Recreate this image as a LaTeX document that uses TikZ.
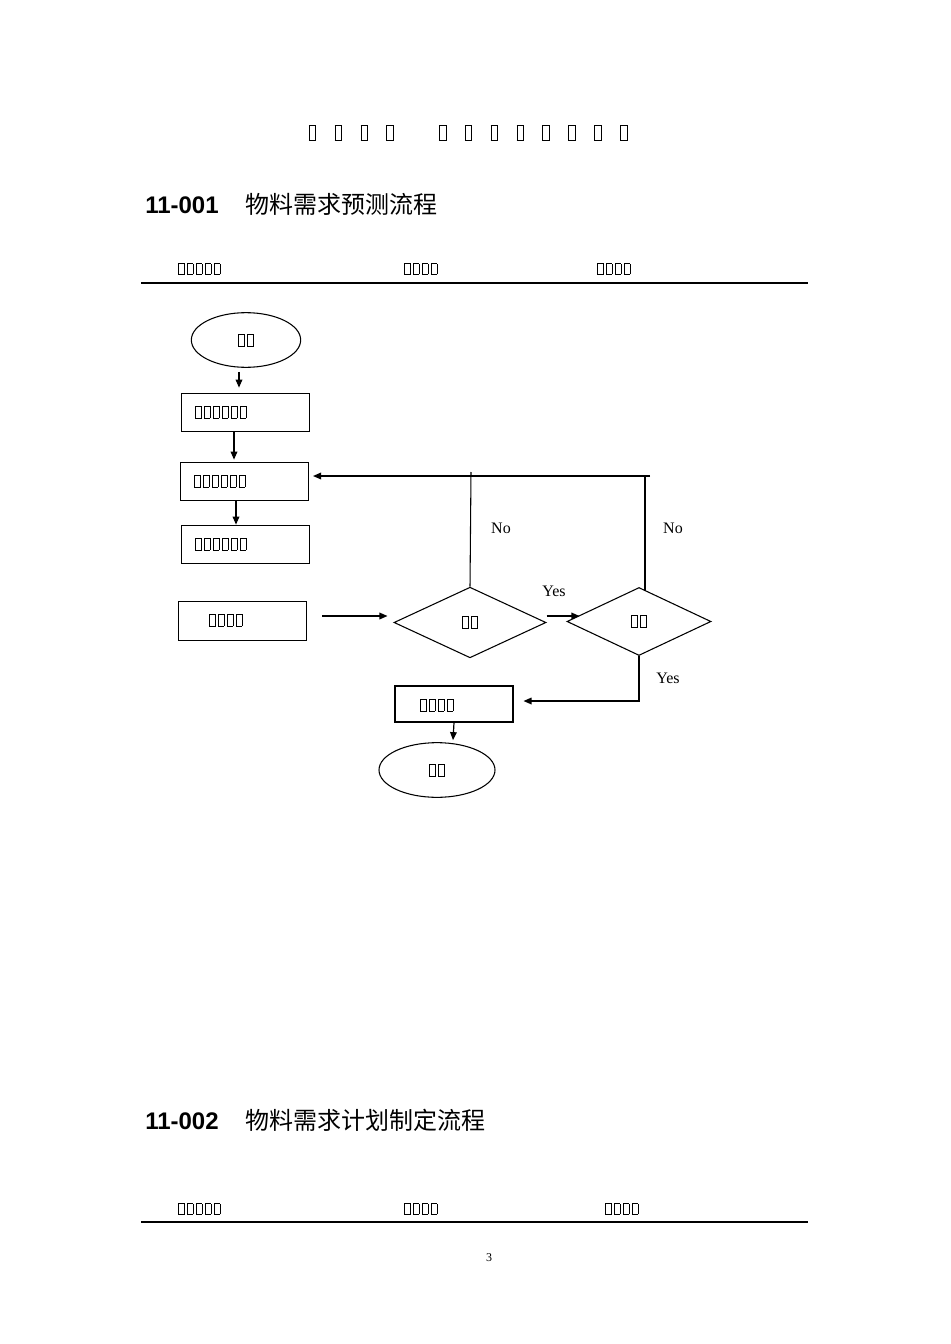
\documentclass[tikz,border=0pt]{standalone}
\usepackage{fontspec}
\setmainfont{Liberation Serif}
\newfontfamily\cjk{Noto Sans CJK SC}
\newfontfamily\hd{Liberation Sans}
\usetikzlibrary{shapes.geometric,arrows.meta}
\setlength{\fboxsep}{0pt}\setlength{\fboxrule}{0.45pt}
\newcommand\tofurow[4]{\foreach \i in {1,...,#1}{\fbox{\rule{0pt}{#3}\hspace{#2}}\hspace{#4}}}
\begin{document}
\begin{tikzpicture}[x=0.75pt,y=-0.75pt,
  box/.style={draw,line width=0.8pt,minimum width=96pt,minimum height=29pt,inner sep=0pt},
  ell/.style={draw,line width=0.8pt,ellipse,minimum width=82pt,minimum height=41pt,inner sep=0pt},
  dia/.style={draw,line width=0.8pt,diamond,aspect=2.1,minimum width=114pt,minimum height=53pt,inner sep=0pt},
  arr/.style={line width=0.9pt,-{Triangle[length=6pt,width=5pt]}},
  ln/.style={line width=0.8pt},
  lbl/.style={font=\fontsize{12}{12}\selectfont,inner sep=0pt}]
\fill[white] (0,0) rectangle (950,1344);
% title
\node[inner sep=0pt] (title) at (468,133) {\tofurow{4}{4.5pt}{11pt}{14pt}\hspace{20pt}\tofurow{8}{4.5pt}{11pt}{14pt}};
% heading 1
\node[anchor=west,inner sep=0pt] (h1) at (145,204) {\fontsize{18}{18}\selectfont\hd\bfseries 11-001\hspace{20pt}\cjk\mdseries 物料需求预测流程};
\node[anchor=west,inner sep=0pt] (r1a) at (178,269) {\tofurow{5}{3.8pt}{7.5pt}{2pt}};
\node[anchor=west,inner sep=0pt] (r1b) at (404,269) {\tofurow{4}{3.8pt}{7.5pt}{2pt}};
\node[anchor=west,inner sep=0pt] (r1c) at (597,269) {\tofurow{4}{3.8pt}{7.5pt}{2pt}};
\coordinate (l1a) at (141,283); \coordinate (l1b) at (808,283);
\draw[line width=1.5pt] (l1a) -- (l1b);
% flowchart
\node[ell] (start) at (246,340) {\tofurow{2}{3.8pt}{8.5pt}{2pt}};
\node[box] (b1) at (245.5,412.5) {};
\node[anchor=west,inner sep=0pt] at (195,412) {\tofurow{6}{3.8pt}{8.5pt}{2pt}};
\node[box] (b2) at (244.5,481.5) {};
\node[anchor=west,inner sep=0pt] at (194,481) {\tofurow{6}{3.8pt}{8.5pt}{2pt}};
\node[box] (b3) at (245.5,544.5) {};
\node[anchor=west,inner sep=0pt] at (195,544) {\tofurow{6}{3.8pt}{8.5pt}{2pt}};
\node[box] (b4) at (242.5,621) {};
\node[anchor=west,inner sep=0pt] at (209,620) {\tofurow{4}{3.8pt}{8.5pt}{2pt}};
\node[dia] (d1) at (470,622.5) {\tofurow{2}{3.8pt}{8.5pt}{2pt}};
\node[dia,minimum width=108pt,minimum height=51pt] (d2) at (639,621.5) {\tofurow{2}{3.8pt}{8.5pt}{2pt}};
\node[box,minimum width=88.5pt,minimum height=27pt] (b5) at (454,704) {};
\node[anchor=west,inner sep=0pt] at (420,705) {\tofurow{4}{3.8pt}{8.5pt}{2pt}};
\node[ell,minimum width=87pt] (end) at (437,770) {\tofurow{2}{3.8pt}{8.5pt}{2pt}};
\draw[arr] ([xshift=-7*0.75pt,yshift=-4*0.75pt]start.south) -- ([xshift=-6.5*0.75pt,yshift=5*0.75pt]b1.north);
\draw[arr] ([xshift=-11.5*0.75pt]b1.south) -- ([xshift=-10.5*0.75pt,yshift=2*0.75pt]b2.north);
\draw[arr] ([xshift=-8.5*0.75pt]b2.south) -- ([xshift=-9.5*0.75pt]b3.north);
\draw[arr] ([xshift=15*0.75pt,yshift=5*0.75pt]b4.east) -- ([xshift=-6*0.75pt,yshift=6.5*0.75pt]d1.west);
\coordinate (j1) at (471,472); \coordinate (j2) at (645,476); \coordinate (j3) at (650,476);
\draw[ln] (d1.north) -- (j1);
\draw[ln] ([xshift=6*0.75pt,yshift=-4*0.75pt]d2.north) -- (j2);
\draw[arr] (j3) -- ([xshift=4*0.75pt,yshift=5.5*0.75pt]b2.east);
\draw[arr] ([yshift=6.5*0.75pt]d1.east) -- ([xshift=13*0.75pt,yshift=5.5*0.75pt]d2.west);
\coordinate (c1) at (639,701);
\draw[arr] (d2.south) -- (c1) -- ([xshift=10*0.75pt,yshift=3*0.75pt]b5.east);
\draw[arr] (b5.south) -- ([xshift=16*0.75pt,yshift=2*0.75pt]end.north);
\node[lbl] (no1) at (501,528) {No};
\node[lbl] (no2) at (673,528) {No};
\node[lbl] (y1) at (554,591) {Yes};
\node[lbl] (y2) at (668,678) {Yes};
% heading 2
\node[anchor=west,inner sep=0pt] (h2) at (145,1120) {\fontsize{18}{18}\selectfont\hd\bfseries 11-002\hspace{20pt}\cjk\mdseries 物料需求计划制定流程};
\node[anchor=west,inner sep=0pt] (r2a) at (178,1209) {\tofurow{5}{3.8pt}{7.5pt}{2pt}};
\node[anchor=west,inner sep=0pt] (r2b) at (404,1209) {\tofurow{4}{3.8pt}{7.5pt}{2pt}};
\node[anchor=west,inner sep=0pt] (r2c) at (605,1209) {\tofurow{4}{3.8pt}{7.5pt}{2pt}};
\coordinate (l2a) at (141,1222); \coordinate (l2b) at (808,1222);
\draw[line width=1.2pt] (l2a) -- (l2b);
\node[inner sep=0pt,font=\fontsize{9}{9}\selectfont] (pg) at (489,1258) {3};
\end{tikzpicture}
\end{document}
